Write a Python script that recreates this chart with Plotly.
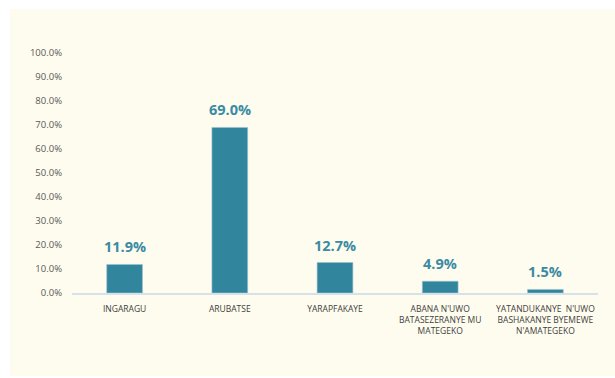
import plotly.graph_objects as go

categories = [
    "INGARAGU",
    "ARUBATSE",
    "YARAPFAKAYE",
    "ABANA N'UWO<br>BATASEZERANYE MU<br>MATEGEKO",
    "YATANDUKANYE  N'UWO<br>BASHAKANYE BYEMEWE<br>N'AMATEGEKO",
]
shares = [11.9, 69.0, 12.7, 4.9, 1.5]
tick_values = [0, 10, 20, 30, 40, 50, 60, 70, 80, 90, 100]
tick_labels = [f"{v:.1f}%" for v in tick_values]

BAR = "#31869E"
LABEL = "#3A8BA4"
CREAM = "#FEFCEE"

W, H = 615, 378
left, right, top, bottom = 72, 17, 53, 85
pw, ph = W - left - right, H - top - bottom

fig = go.Figure()
fig.add_trace(go.Bar(
    x=categories, y=shares,
    marker=dict(color=BAR, line=dict(color="#9CC3CF", width=0.6)),
    width=0.34,
    hoverinfo="skip",
))

for c, v in zip(categories, shares):
    fig.add_annotation(
        x=c, y=v, text=f"<b>{v:.1f}%</b>", showarrow=False,
        yanchor="bottom", yshift=6,
        font=dict(family="Open Sans", size=14.5, color=LABEL),
    )

# cream panel behind the chart
fig.add_shape(
    type="rect", xref="paper", yref="paper", layer="below",
    x0=(10 - left) / pw, x1=(W - left) / pw,
    y0=(H - bottom - 376) / ph, y1=(H - bottom - 9) / ph,
    fillcolor=CREAM, line=dict(width=0),
)

fig.update_layout(
    width=W, height=H,
    margin=dict(l=left, r=right, t=top, b=bottom, pad=0),
    paper_bgcolor="white",
    plot_bgcolor="rgba(0,0,0,0)",
    showlegend=False,
    xaxis=dict(
        showgrid=False, zeroline=False,
        showline=True, linecolor="#D6E1EA", linewidth=1.5,
        ticks="", ticklabelstandoff=7,
        tickfont=dict(family="Open Sans", size=8.5, color="#404040"),
        fixedrange=True,
    ),
    yaxis=dict(
        range=[0, 100], showgrid=False, zeroline=False, showline=False,
        tickmode="array", tickvals=tick_values, ticktext=tick_labels,
        ticks="", ticklabelstandoff=9,
        tickfont=dict(family="Open Sans", size=9.5, color="#595959"),
        fixedrange=True,
    ),
)

fig.write_html("out.html")
